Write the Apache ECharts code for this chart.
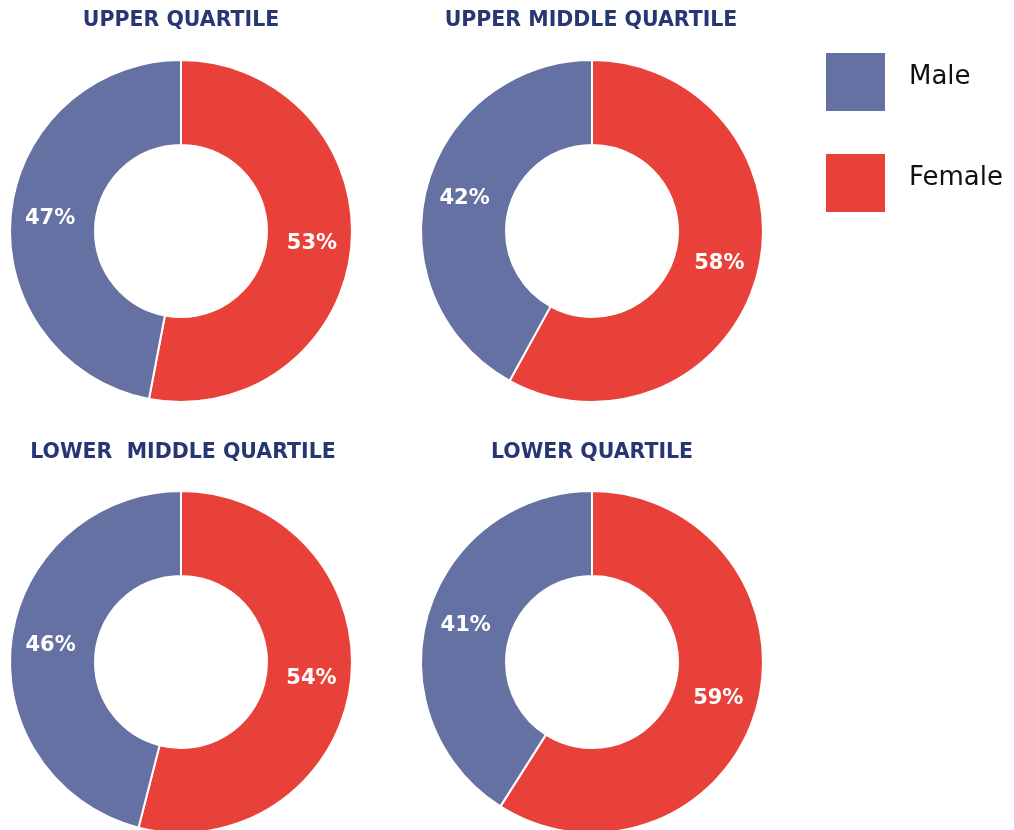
<!DOCTYPE html>
<html>
<head>
<meta charset="utf-8">
<script src="https://cdn.jsdelivr.net/npm/echarts@6/dist/echarts.min.js"></script>
<style>
html,body{margin:0;padding:0;background:#fff;}
#chart{width:1014px;height:830px;}
</style>
</head>
<body>
<div id="chart"></div>
<script>
const quartiles = ['UPPER QUARTILE', 'UPPER MIDDLE QUARTILE', 'LOWER  MIDDLE QUARTILE', 'LOWER QUARTILE'];
const female = [53, 58, 54, 59];
const male = [47, 42, 46, 41];
const seriesNames = ['Male', 'Female'];

const centers = [[181, 231], [592, 231], [181, 662], [592, 662]];
const titlePos = [[181, 10], [591, 10], [183, 442], [592, 442]];
const colors = { Male: '#6570A3', Female: '#E8413A' };

const chart = echarts.init(document.getElementById('chart'));
chart.setOption({
  backgroundColor: '#ffffff',
  animation: false,
  title: quartiles.map((q, i) => ({
    text: q,
    left: titlePos[i][0],
    top: titlePos[i][1],
    padding: 0,
    textAlign: 'center',
    textStyle: { fontFamily: 'DejaVu Sans', fontWeight: 'bold', fontSize: 20.5, color: '#283674' }
  })),
  legend: {
    orient: 'vertical',
    left: 824,
    top: 51,
    padding: 0,
    itemWidth: 61,
    itemHeight: 60,
    itemGap: 39,
    icon: 'rect',
    data: seriesNames,
    formatter: '{t|{name}}',
    textStyle: {
      fontFamily: 'DejaVu Sans', fontSize: 26, color: '#111',
      rich: { t: { fontFamily: 'DejaVu Sans', fontSize: 26, color: '#111', padding: [0, 0, 10, 18] } }
    }
  },
  series: quartiles.map((q, i) => ({
    type: 'pie',
    name: q,
    center: centers[i],
    radius: [86, 171],
    startAngle: 90,
    clockwise: true,
    avoidLabelOverlap: false,
    itemStyle: { borderColor: '#fff', borderWidth: 2 },
    label: {
      show: true,
      position: 'inside',
      formatter: '{c}%',
      color: '#fff',
      fontFamily: 'DejaVu Sans',
      fontWeight: 'bold',
      fontSize: 21
    },
    labelLine: { show: false },
    emphasis: { disabled: true },
    data: [
      { name: 'Female', value: female[i], itemStyle: { color: colors.Female } },
      { name: 'Male', value: male[i], itemStyle: { color: colors.Male } }
    ]
  }))
});
</script>
</body>
</html>
